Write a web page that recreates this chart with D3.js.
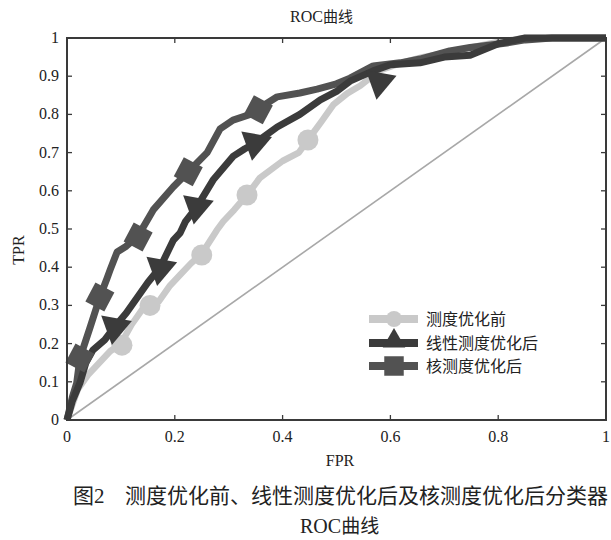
<!DOCTYPE html>
<html>
<head>
<meta charset="utf-8">
<script src="https://cdn.jsdelivr.net/npm/d3@7"></script>
<style>
  body { margin: 0; background: #fff; }
  svg { display: block; }
</style>
</head>
<body>
<svg id="chart" width="611" height="540"></svg>
<script>
// 曲线数据
const fprBefore = [0, 0.01, 0.02, 0.04, 0.06, 0.08, 0.10, 0.12, 0.14, 0.155, 0.17, 0.19, 0.21, 0.23, 0.25, 0.278, 0.29, 0.31, 0.334, 0.358, 0.40, 0.43, 0.447, 0.473, 0.494, 0.52, 0.544, 0.58, 0.62, 0.66, 0.70, 0.75, 0.80, 0.85, 0.90, 1]
const tprBefore = [0, 0.04, 0.08, 0.12, 0.15, 0.18, 0.20, 0.25, 0.29, 0.30, 0.31, 0.35, 0.38, 0.41, 0.435, 0.497, 0.52, 0.55, 0.589, 0.634, 0.678, 0.70, 0.733, 0.783, 0.825, 0.855, 0.875, 0.915, 0.935, 0.95, 0.96, 0.975, 0.99, 1, 1, 1]

const fprLinear = [0, 0.01, 0.024, 0.035, 0.048, 0.07, 0.089, 0.11, 0.13, 0.15, 0.173, 0.197, 0.21, 0.22, 0.241, 0.271, 0.308, 0.33, 0.349, 0.39, 0.432, 0.47, 0.50, 0.525, 0.568, 0.60, 0.655, 0.70, 0.748, 0.80, 0.85, 0.90, 1]
const tprLinear = [0, 0.05, 0.097, 0.15, 0.183, 0.21, 0.245, 0.28, 0.32, 0.36, 0.40, 0.47, 0.49, 0.52, 0.558, 0.628, 0.69, 0.71, 0.725, 0.767, 0.80, 0.838, 0.86, 0.887, 0.914, 0.93, 0.935, 0.95, 0.955, 0.985, 1, 1, 1]

const fprKernel = [0, 0.01, 0.018, 0.024, 0.043, 0.061, 0.074, 0.08, 0.093, 0.11, 0.132, 0.16, 0.197, 0.225, 0.26, 0.284, 0.308, 0.34, 0.355, 0.39, 0.432, 0.464, 0.50, 0.525, 0.568, 0.618, 0.655, 0.71, 0.748, 0.816, 0.85, 0.90, 1]
const tprKernel = [0, 0.06, 0.097, 0.162, 0.243, 0.322, 0.37, 0.393, 0.44, 0.455, 0.482, 0.55, 0.61, 0.65, 0.70, 0.762, 0.785, 0.80, 0.815, 0.846, 0.856, 0.866, 0.88, 0.895, 0.927, 0.935, 0.945, 0.966, 0.975, 0.987, 0.995, 1, 1]

// 标记点
const markBefore = [[0.102, 0.196], [0.154, 0.30], [0.25, 0.432], [0.334, 0.589], [0.447, 0.733]]
const markLinear = [[0.089, 0.243], [0.173, 0.397], [0.241, 0.558], [0.349, 0.725], [0.58, 0.885]]
const markKernel = [[0.024, 0.162], [0.061, 0.322], [0.132, 0.479], [0.225, 0.65], [0.355, 0.812]]

const legendNames = ['测度优化前', '线性测度优化后', '核测度优化后']
const xTicks = [0, 0.2, 0.4, 0.6, 0.8, 1]
const yTicks = [0, 0.1, 0.2, 0.3, 0.4, 0.5, 0.6, 0.7, 0.8, 0.9, 1]

const serif = '"Liberation Serif", "Times New Roman", serif'
const cjk = '"Noto Sans CJK SC", sans-serif'

const colBefore = '#c9c9c9'
const colLinear = '#3b3b3b'
const colKernel = '#525252'

const svg = d3.select('#chart')
const pLeft = 67, pRight = 606, pTop = 38, pBottom = 420

const x = d3.scaleLinear().domain([0, 1]).range([pLeft, pRight])
const y = d3.scaleLinear().domain([0, 1]).range([pBottom, pTop])

// 对角线
svg.append('line')
    .attr('x1', x(0)).attr('y1', y(0))
    .attr('x2', x(1)).attr('y2', y(1))
    .attr('stroke', '#a8a8a8').attr('stroke-width', 1.6)

const line = d3.line().x(d => x(d[0])).y(d => y(d[1]))

function drawCurve(fpr, tpr, color, width) {
    const pts = fpr.map((f, i) => [f, tpr[i]])
    svg.append('path')
        .attr('d', line(pts))
        .attr('fill', 'none')
        .attr('stroke', color)
        .attr('stroke-width', width)
        .attr('stroke-linejoin', 'round')
}

drawCurve(fprBefore, tprBefore, colBefore, 6.5)
drawCurve(fprKernel, tprKernel, colKernel, 7)
drawCurve(fprLinear, tprLinear, colLinear, 7)

// markers
svg.selectAll('.mb').data(markBefore).enter().append('circle')
    .attr('cx', d => x(d[0])).attr('cy', d => y(d[1]))
    .attr('r', 10.5).attr('fill', colBefore)

const sq = d3.symbol().type(d3.symbolSquare).size(460)
svg.selectAll('.mk').data(markKernel).enter().append('path')
    .attr('d', sq)
    .attr('transform', d => `translate(${x(d[0])},${y(d[1])}) rotate(28)`)
    .attr('fill', colKernel)

const tri = d3.symbol().type(d3.symbolTriangle).size(420)
svg.selectAll('.ml').data(markLinear).enter().append('path')
    .attr('d', tri)
    .attr('transform', d => `translate(${x(d[0])},${y(d[1])}) rotate(-50)`)
    .attr('fill', colLinear)

// 坐标框
svg.append('rect')
    .attr('x', pLeft).attr('y', pTop)
    .attr('width', pRight - pLeft).attr('height', pBottom - pTop)
    .attr('fill', 'none').attr('stroke', '#3a3a3a').attr('stroke-width', 2)

// ticks (inward, all four sides)
const tickLen = 5
const tk = svg.append('g').attr('stroke', '#3a3a3a').attr('stroke-width', 1.3)
xTicks.forEach(t => {
    tk.append('line').attr('x1', x(t)).attr('x2', x(t)).attr('y1', pBottom).attr('y2', pBottom - tickLen)
    tk.append('line').attr('x1', x(t)).attr('x2', x(t)).attr('y1', pTop).attr('y2', pTop + tickLen)
})
yTicks.forEach(t => {
    tk.append('line').attr('y1', y(t)).attr('y2', y(t)).attr('x1', pLeft).attr('x2', pLeft + tickLen)
    tk.append('line').attr('y1', y(t)).attr('y2', y(t)).attr('x1', pRight).attr('x2', pRight - tickLen)
})

const fmt = d => d === 0 || d === 1 ? String(d) : d3.format('.1f')(d)

svg.selectAll('.xl').data(xTicks).enter().append('text')
    .attr('x', d => x(d)).attr('y', pBottom + 22)
    .attr('text-anchor', 'middle')
    .style('font-family', serif).style('font-size', '16px').attr('fill', '#222')
    .text(fmt)

svg.selectAll('.yl').data(yTicks).enter().append('text')
    .attr('x', pLeft - 8).attr('y', d => y(d) + 5)
    .attr('text-anchor', 'end')
    .style('font-family', serif).style('font-size', '16px').attr('fill', '#222')
    .text(fmt)

// 标题和轴标签
svg.append('text').attr('x', 290).attr('y', 22)
    .style('font-family', serif).style('font-size', '16px').attr('fill', '#222')
    .text('ROC').append('tspan').style('font-family', cjk).style('font-size', '15px').text('曲线')

svg.append('text').attr('x', 340).attr('y', 466).attr('text-anchor', 'middle')
    .style('font-family', serif).style('font-size', '16px').attr('fill', '#222')
    .text('FPR')

svg.append('text').attr('transform', 'translate(24,250) rotate(-90)').attr('text-anchor', 'middle')
    .style('font-family', serif).style('font-size', '16px').attr('fill', '#222')
    .text('TPR')

// legend
const legY = [319, 343, 366]
const legCols = [colBefore, colLinear, colKernel]
legendNames.forEach((name, i) => {
    svg.append('line')
        .attr('x1', 369).attr('x2', 418).attr('y1', legY[i]).attr('y2', legY[i])
        .attr('stroke', legCols[i]).attr('stroke-width', 8)
    svg.append('text').attr('x', 426).attr('y', legY[i] + 6)
        .style('font-family', cjk).style('font-size', '16px').attr('fill', '#222')
        .text(name)
})
svg.append('circle').attr('cx', 394).attr('cy', legY[0]).attr('r', 8).attr('fill', colBefore)
svg.append('path').attr('d', d3.symbol().type(d3.symbolTriangle).size(220))
    .attr('transform', `translate(394,${legY[1] - 2})`).attr('fill', colLinear)
svg.append('path').attr('d', d3.symbol().type(d3.symbolSquare).size(380))
    .attr('transform', `translate(394,${legY[2]})`).attr('fill', colKernel)

// 图注
svg.append('text').attr('x', 73).attr('y', 503)
    .style('font-family', cjk).style('font-size', '21px').attr('fill', '#222')
    .text('图').append('tspan').style('font-family', serif).text('2')
svg.append('text').attr('x', 125).attr('y', 503)
    .style('font-family', cjk).style('font-size', '21px').attr('fill', '#222')
    .text('测度优化前、线性测度优化后及核测度优化后分类器')
svg.append('text').attr('x', 300).attr('y', 533)
    .style('font-family', serif).style('font-size', '20px').attr('fill', '#222')
    .text('ROC').append('tspan').style('font-family', cjk).style('font-size', '19px').text('曲线')
</script>
</body>
</html>
